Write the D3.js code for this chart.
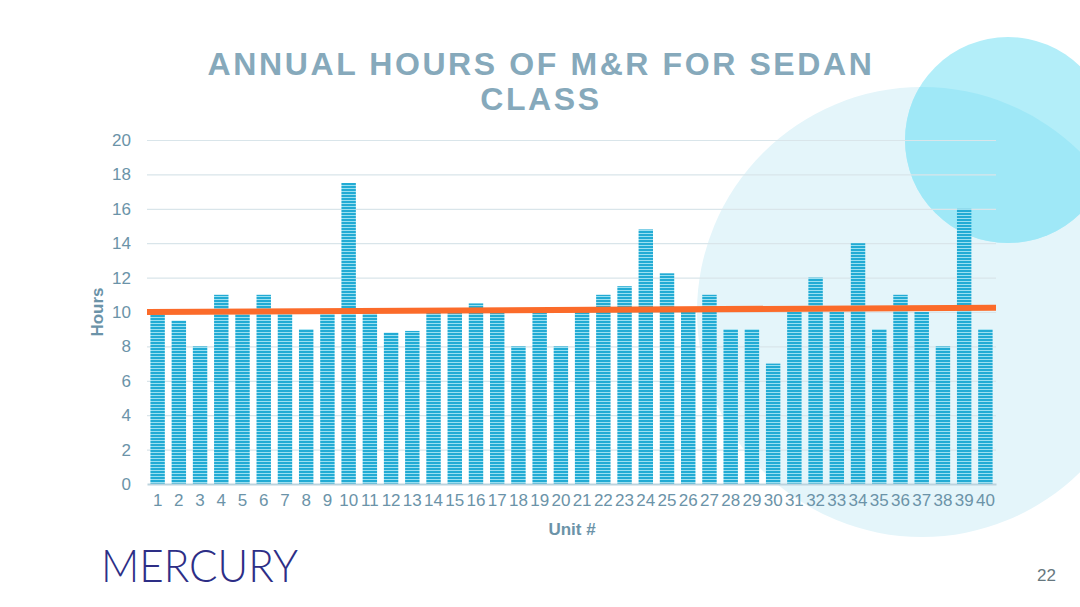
<!DOCTYPE html>
<html>
<head>
<meta charset="utf-8">
<script src="https://cdn.jsdelivr.net/npm/d3@7"></script>
<style>
  html, body { margin: 0; padding: 0; background: #ffffff; }
  svg { display: block; }
</style>
</head>
<body>
<svg id="chart" width="1080" height="607"></svg>
<script>
// ---- data ----
const units = d3.range(1, 41).map(String);
const hours = [10, 9.5, 8, 11, 10, 11, 10, 9, 10, 17.5,
               10, 8.8, 8.9, 10, 10, 10.5, 10, 8, 10, 8,
               10, 11, 11.5, 14.8, 12.25, 10, 11, 9, 9, 7,
               10, 12, 10, 14, 9, 11, 10, 8, 16, 9];
const yTicks = [0, 2, 4, 6, 8, 10, 12, 14, 16, 18, 20];
const trend = [10.0, 10.25]; // trendline value at left and right edge of plot
const titleLines = ["ANNUAL HOURS OF M&R FOR SEDAN", "CLASS"];

// ---- layout ----
const plot = { left: 147, right: 996, top: 140, bottom: 484 };
const svg = d3.select("#chart");
const defs = svg.append("defs");

// background circles
const big = { cx: 922, cy: 312, r: 225 };
const small = { cx: 1008, cy: 140, r: 103 };
defs.append("clipPath").attr("id", "bigClip")
  .append("circle").attr("cx", big.cx).attr("cy", big.cy).attr("r", big.r);
svg.append("circle").attr("cx", big.cx).attr("cy", big.cy).attr("r", big.r).attr("fill", "#e4f5fa");
svg.append("circle").attr("cx", small.cx).attr("cy", small.cy).attr("r", small.r).attr("fill", "#b3eef9");
svg.append("circle").attr("cx", small.cx).attr("cy", small.cy).attr("r", small.r)
  .attr("fill", "#9fe8f7").attr("clip-path", "url(#bigClip)");

// bar stripe pattern
const pat = defs.append("pattern").attr("id", "stripes")
  .attr("patternUnits", "userSpaceOnUse").attr("width", 10).attr("height", 3);
pat.append("rect").attr("width", 10).attr("height", 3).attr("fill", "#9be0f1");
pat.append("rect").attr("width", 10).attr("height", 2).attr("fill", "#22abd4");

// scales
const x = d3.scaleBand().domain(units).range([plot.left, plot.right]).paddingInner(0.32).paddingOuter(0.16);
const y = d3.scaleLinear().domain([0, 20]).range([plot.bottom, plot.top]);

// gridlines
svg.append("g")
  .attr("transform", `translate(${plot.left},0)`)
  .call(d3.axisLeft(y).tickValues(yTicks.filter(d => d > 0)).tickSize(-(plot.right - plot.left)).tickFormat(""))
  .call(g => g.select(".domain").remove())
  .call(g => g.selectAll("line").attr("stroke", "#d9e5ea").attr("stroke-width", 1.2));

// y tick labels
svg.append("g")
  .attr("transform", `translate(${plot.left},0)`)
  .call(d3.axisLeft(y).tickValues(yTicks).tickSize(0).tickPadding(16))
  .call(g => g.select(".domain").remove())
  .call(g => g.selectAll("text")
      .attr("font-family", "Liberation Sans, Arial, sans-serif")
      .attr("font-size", 17).attr("fill", "#6b93a8"));

// bars
svg.append("g").selectAll("rect").data(hours).join("rect")
  .attr("x", (d, i) => x(units[i]))
  .attr("y", d => y(d))
  .attr("width", x.bandwidth())
  .attr("height", d => y(0) - y(d))
  .attr("fill", "url(#stripes)");

// x axis
svg.append("g")
  .attr("transform", `translate(0,${plot.bottom})`)
  .call(d3.axisBottom(x).tickSize(0).tickPadding(10))
  .call(g => g.select(".domain").attr("stroke", "#bcd3dd").attr("stroke-width", 2))
  .call(g => g.selectAll("text")
      .attr("font-family", "Liberation Sans, Arial, sans-serif")
      .attr("font-size", 17).attr("fill", "#6b93a8"));

// trend line
svg.append("line")
  .attr("x1", plot.left).attr("x2", plot.right)
  .attr("y1", y(trend[0])).attr("y2", y(trend[1]))
  .attr("stroke", "#fb6b2a").attr("stroke-width", 6);

// axis titles
svg.append("text").attr("x", 572).attr("y", 535).attr("text-anchor", "middle")
  .attr("font-family", "Liberation Sans, Arial, sans-serif").attr("font-weight", "bold")
  .attr("font-size", 17).attr("fill", "#6b93a8").text("Unit #");
svg.append("text").attr("transform", "translate(103,312) rotate(-90)").attr("text-anchor", "middle")
  .attr("font-family", "Liberation Sans, Arial, sans-serif").attr("font-weight", "bold")
  .attr("font-size", 17).attr("fill", "#6b93a8").text("Hours");

// title
svg.append("g").selectAll("text").data(titleLines).join("text")
  .attr("x", 541).attr("y", (d, i) => 75 + i * 35)
  .attr("text-anchor", "middle")
  .attr("font-family", "Liberation Sans, Arial, sans-serif").attr("font-weight", "bold")
  .attr("font-size", 32).attr("letter-spacing", 2.6).attr("fill", "#86a9bb")
  .text(d => d);

// logo
svg.append("text").attr("x", 101).attr("y", 582)
  .attr("font-family", "Lato, Liberation Sans, sans-serif").attr("font-weight", 300)
  .attr("font-size", 46).attr("fill", "#2d2e86")
  .attr("textLength", 197).attr("lengthAdjust", "spacingAndGlyphs")
  .text("MERCURY");

// page number
svg.append("text").attr("x", 1056).attr("y", 581).attr("text-anchor", "end")
  .attr("font-family", "Liberation Sans, Arial, sans-serif")
  .attr("font-size", 17).attr("fill", "#66777e").text("22");
</script>
</body>
</html>
